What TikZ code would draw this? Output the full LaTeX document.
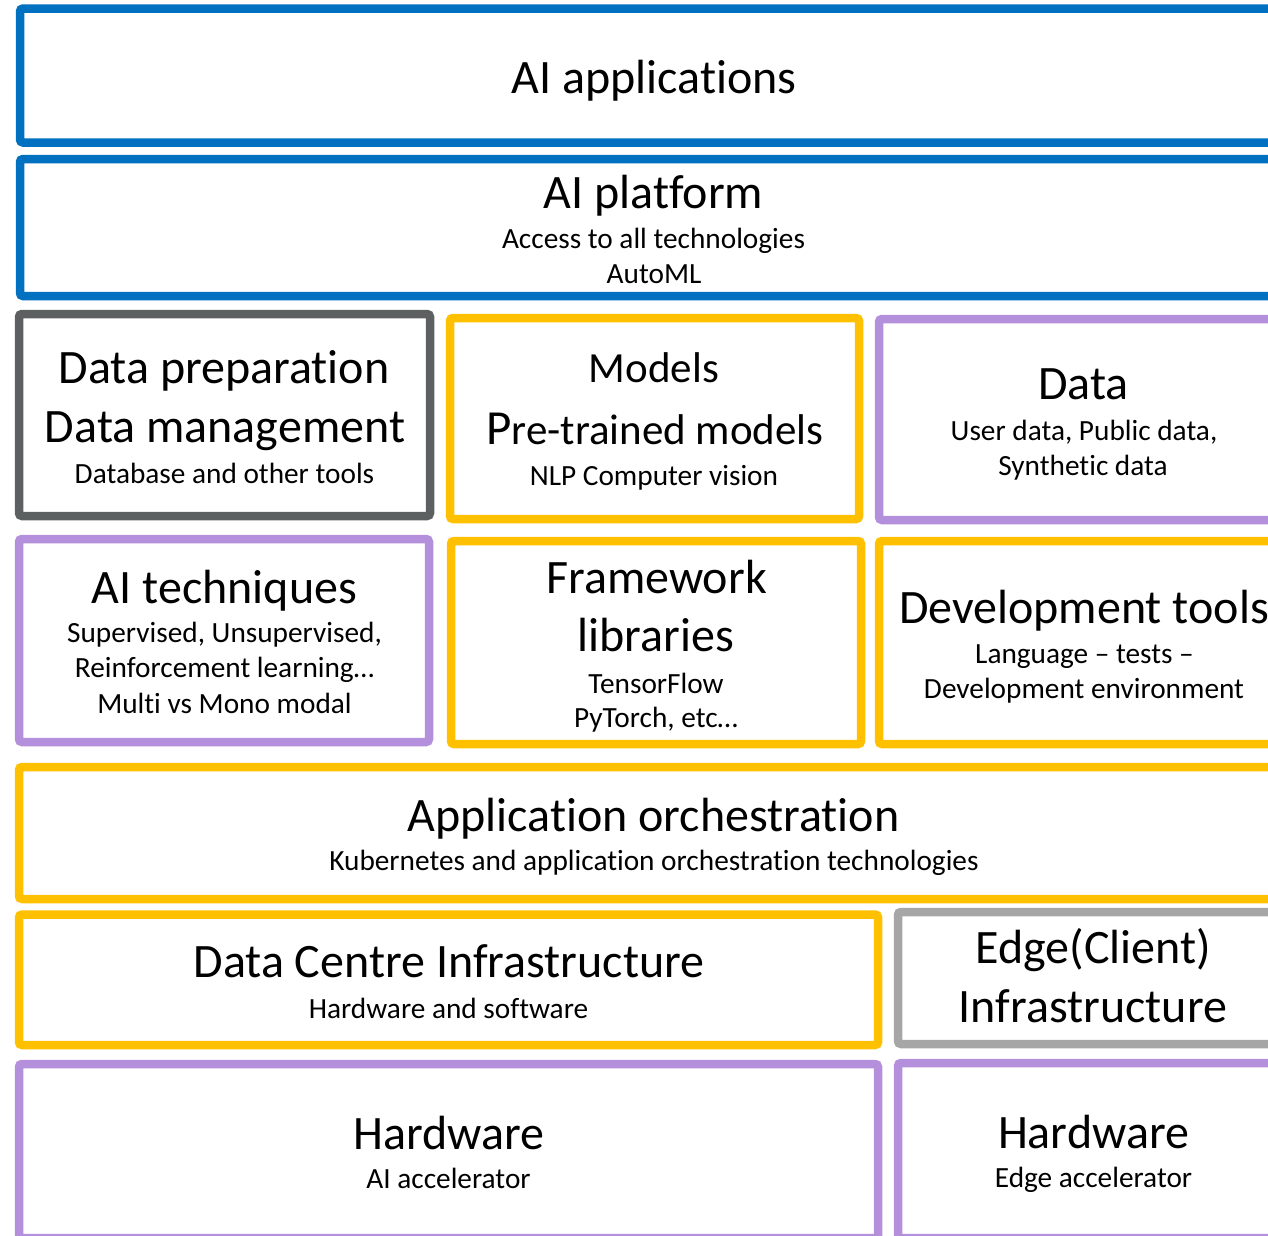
\documentclass[tikz,border=0pt]{standalone}
\usepackage{fontspec}
\setmainfont{Carlito}[Ligatures={TeX,NoCommon}]
\definecolor{aiblue}{HTML}{0070C0}
\definecolor{darkgrey}{HTML}{5D6061}
\definecolor{gold}{HTML}{FFC000}
\definecolor{lilac}{HTML}{B48FDB}
\definecolor{lightgrey}{HTML}{A6A6A6}
\tikzset{
  layer/.style={rectangle, draw, line width=8.5pt, rounded corners=3pt, inner sep=0pt},
  title/.style={anchor=base, inner sep=0pt, font=\fontsize{48}{48}\selectfont},
  sub/.style={anchor=base, inner sep=0pt, font=\fontsize{29.3}{29.3}\selectfont}
}
\begin{document}
\begin{tikzpicture}[x=1pt, y=-1pt]
    \useasboundingbox (0,0) rectangle (1268,1235);
    \clip (0,0) rectangle (1268,1235);

    \node[layer, draw=aiblue,
    minimum width=1280pt,
    minimum height=134pt] (apps) at (660,75.5) {};

    \node[layer, draw=aiblue,
    minimum width=1280pt,
    minimum height=137pt] (platform) at (660,227.5) {};

    \node[layer, draw=darkgrey,
    minimum width=411pt,
    minimum height=202pt] (prep) at (224.5,415) {};

    \node[layer, draw=gold,
    minimum width=409pt,
    minimum height=201pt] (models) at (654.5,418.5) {};

    \node[layer, draw=lilac,
    minimum width=421pt,
    minimum height=201pt] (data) at (1089.5,419.5) {};

    \node[layer, draw=lilac,
    minimum width=410pt,
    minimum height=203pt] (techniques) at (224,640.5) {};

    \node[layer, draw=gold,
    minimum width=410pt,
    minimum height=203pt] (framework) at (656,642.5) {};

    \node[layer, draw=gold,
    minimum width=421pt,
    minimum height=203pt] (devtools) at (1089.5,642.5) {};

    \node[layer, draw=gold,
    minimum width=1281pt,
    minimum height=132pt] (orchestration) at (659.5,833) {};

    \node[layer, draw=gold,
    minimum width=859pt,
    minimum height=130.5pt] (centre) at (448.5,979.75) {};

    \node[layer, draw=lightgrey,
    minimum width=402pt,
    minimum height=132pt] (edge) at (1099,978) {};

    \node[layer, draw=lilac,
    minimum width=859pt,
    minimum height=174pt] (hw) at (448.5,1151) {};

    \node[layer, draw=lilac,
    minimum width=402pt,
    minimum height=175pt] (edgehw) at (1099,1150.5) {};

      \node[title] (appsT) at (654,93) {AI applications};

      \node[title] (platformT) at (653.5,208) {AI platform};
      \node[sub] (platformA) at (653.5,248) {Access to all technologies};
      \node[sub] (platformB) at (654,283) {AutoML};

      \node[title] (prepT) at (224,383) {Data preparation};
      \node[title] (prepU) at (225,442) {Data management};
      \node[sub] (prepA) at (224.5,483) {Database and other tools};

      \node[title, font=\fontsize{43}{43}\selectfont] (modelsT) at (654,382) {Models};
      \node[title, font=\fontsize{43}{43}\selectfont] (modelsU) at (655,444)
        {{\fontsize{49}{49}\selectfont P}re-trained models};
      \node[sub] (modelsA) at (654,485) {NLP Computer vision};

      \node[title] (dataT) at (1083.5,399.5) {Data};
      \node[sub] (dataA) at (1084,440) {User data, Public data,};
      \node[sub] (dataB) at (1083,475) {Synthetic data};

      \node[title] (techT) at (224.5,603.5) {AI techniques};
      \node[sub] (techA) at (224.5,642) {Supervised, Unsupervised,};
      \node[sub] (techB) at (224.5,677) {Reinforcement learning\ldots};
      \node[sub] (techC) at (224.5,713) {Multi vs Mono modal};

      \node[title] (frameT) at (656.5,593.5) {Framework};
      \node[title] (frameU) at (656,651) {libraries};
      \node[sub] (frameA) at (656,693) {TensorFlow};
      \node[sub] (frameB) at (656,727) {PyTorch, etc\ldots};

      \node[title] (devT) at (1084,623) {Development tools};
      \node[sub] (devA) at (1084.5,663.5) {Language -- tests --};
      \node[sub] (devB) at (1084,698.5) {Development environment};

      \node[title] (orchT) at (653.5,831.5) {Application orchestration};
      \node[sub] (orchA) at (654,870) {Kubernetes and application orchestration technologies};

      \node[title] (centreT) at (449,977) {Data Centre Infrastructure};
      \node[sub] (centreA) at (448.5,1018.5) {Hardware and software};

      \node[title] (edgeT) at (1093.5,963.5) {Edge(Client)};
      \node[title] (edgeU) at (1093,1022.5) {Infrastructure};

      \node[title] (hwT) at (449,1149.5) {Hardware};
      \node[sub] (hwA) at (448.5,1188.5) {AI accelerator};

      \node[title] (edgehwT) at (1093.5,1148.5) {Hardware};
      \node[sub] (edgehwA) at (1093.5,1187.5) {Edge accelerator};
    \end{tikzpicture}
\end{document}
